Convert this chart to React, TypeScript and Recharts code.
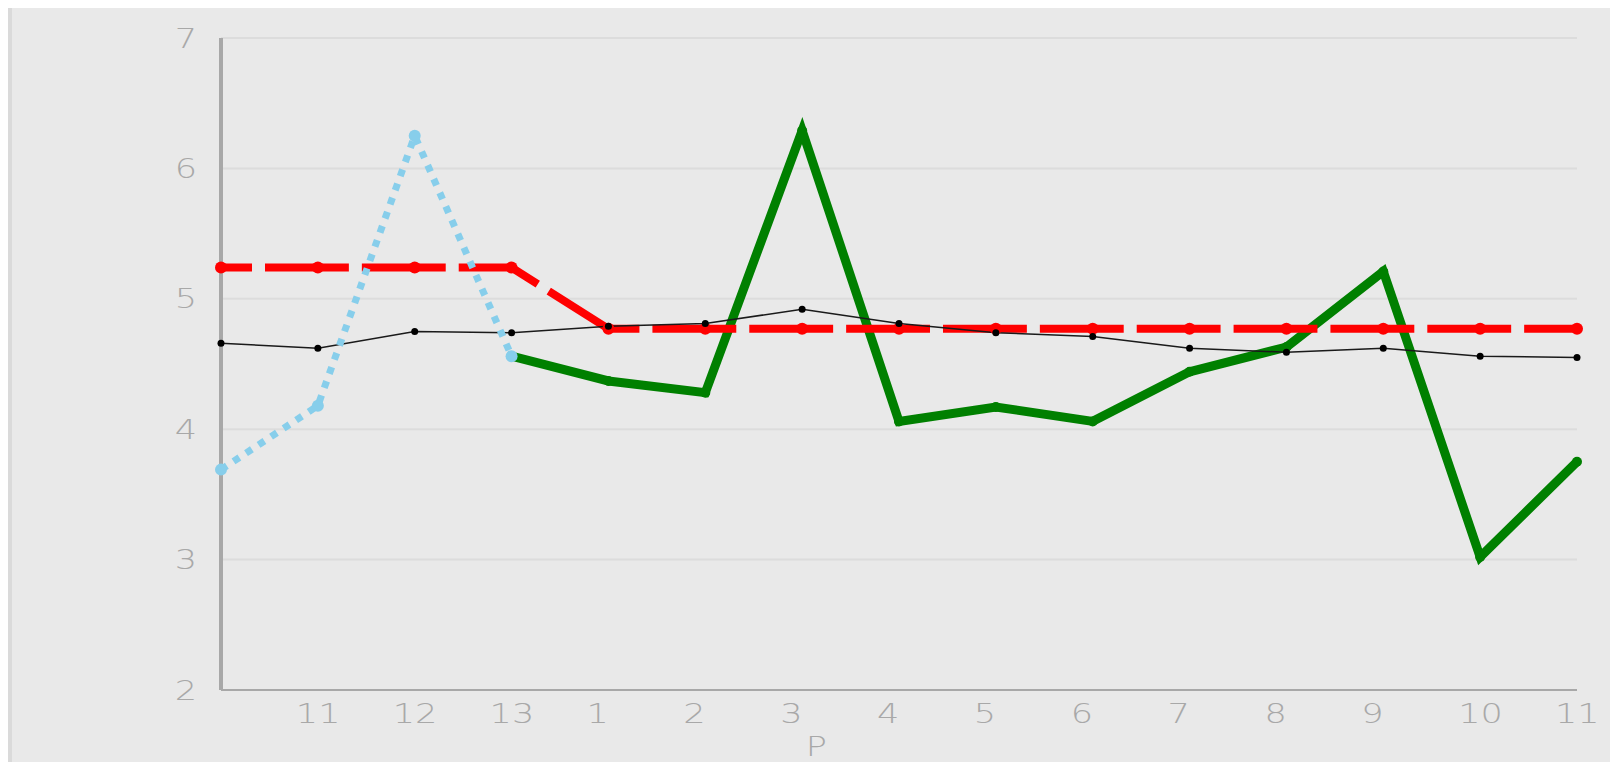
import React from "react";
import { LineChart, Line, XAxis, YAxis, CartesianGrid } from "recharts";

const periods = ["10", "11", "12", "13", "1", "2", "3", "4", "5", "6", "7", "8", "9", "10", "11"];
const prevYear = [3.69, 4.18, 6.25, 4.56, null, null, null, null, null, null, null, null, null, null, null];
const thisYear = [null, null, null, 4.56, 4.37, 4.28, 6.29, 4.06, 4.17, 4.06, 4.44, 4.63, 5.21, 3.02, 3.75];
const target = [5.24, 5.24, 5.24, 5.24, 4.77, 4.77, 4.77, 4.77, 4.77, 4.77, 4.77, 4.77, 4.77, 4.77, 4.77];
const average = [4.66, 4.62, 4.75, 4.74, 4.79, 4.81, 4.92, 4.81, 4.74, 4.71, 4.62, 4.59, 4.62, 4.56, 4.55];
const yTicks = [2, 3, 4, 5, 6, 7];

const chartData = periods.map((p, i) => ({
  period: p,
  prevYear: prevYear[i],
  thisYear: thisYear[i],
  target: target[i],
  average: average[i],
}));

const FONT = "'DejaVu Sans', sans-serif";
const TEXT = "#a8a8a8";

const XTick = (props: any) => {
  const { x, y, payload, index } = props;
  if (index === 0) return null;
  return (
    <text
      transform={`translate(${x - 22},${y + 32.5}) scale(1.35,1)`}
      textAnchor="start"
      fontFamily={FONT}
      fontSize={26}
      fontWeight={200}
      fill={TEXT}
    >
      {payload.value}
    </text>
  );
};

const YTick = (props: any) => {
  const { x, y, payload } = props;
  return (
    <text
      transform={`translate(${x - 24},${y + 9.5}) scale(1.35,1)`}
      textAnchor="end"
      fontFamily={FONT}
      fontSize={26}
      fontWeight={200}
      fill={TEXT}
    >
      {payload.value}
    </text>
  );
};

const AxisName = (props: any) => {
  const vb = props.viewBox;
  return (
    <text
      transform={`translate(${vb.x + vb.width * 0.439},${vb.y + 65.5}) scale(1.35,1)`}
      textAnchor="middle"
      fontFamily={FONT}
      fontSize={26}
      fontWeight={200}
      fill={TEXT}
    >
      P
    </text>
  );
};

// gaps sit ~31px after each point, like the original per-segment dash
const seg = 96.86;
const redDash = [31, 13, seg - 13, 13, seg - 13, 13, seg - 13, 13, 101.6, 13]
  .concat(Array.from({ length: 9 }).flatMap(() => [seg - 13, 13]))
  .concat([300])
  .join(" ");

export default function App() {
  return (
    <div
      style={{
        width: 1606,
        height: 756,
        marginTop: -2,
        background: "#e9e9e9",
        borderTop: "2px solid #dcdcdc",
        borderLeft: "4px solid #dadada",
      }}
    >
      <LineChart
        width={1606}
        height={754}
        data={chartData}
        margin={{ top: 30, right: 41, left: 0, bottom: 12 }}
      >
        <CartesianGrid vertical={false} stroke="#dcdcdc" strokeWidth={2} />
        <XAxis
          dataKey="period"
          height={60}
          interval={0}
          tickSize={0}
          tickMargin={0}
          tick={<XTick />}
          axisLine={{ stroke: "#a8a8a8", strokeWidth: 2 }}
          tickLine={false}
          label={<AxisName />}
        />
        <YAxis
          width={209}
          domain={[2, 7]}
          ticks={yTicks}
          tickSize={0}
          tickMargin={0}
          tick={<YTick />}
          axisLine={{ stroke: "#a8a8a8", strokeWidth: 4 }}
          tickLine={false}
        />
        <Line
          dataKey="thisYear"
          type="linear"
          stroke="#008000"
          strokeWidth={9}
          strokeLinejoin="miter"
          dot={{ r: 5, fill: "#008000", stroke: "none" }}
          activeDot={false}
          isAnimationActive={false}
        />
        <Line
          dataKey="target"
          type="linear"
          stroke="#ff0000"
          strokeWidth={8}
          strokeDasharray={redDash}
          dot={{ r: 6, fill: "#ff0000", stroke: "none" }}
          activeDot={false}
          isAnimationActive={false}
        />
        <Line
          dataKey="average"
          type="linear"
          stroke="#1a1a1a"
          strokeWidth={1.5}
          dot={{ r: 3.5, fill: "#000", stroke: "none" }}
          activeDot={false}
          isAnimationActive={false}
        />
        <Line
          dataKey="prevYear"
          type="linear"
          stroke="#87ceeb"
          strokeWidth={7}
          strokeDasharray="7 8"
          dot={{ r: 6, fill: "#87ceeb", stroke: "none" }}
          activeDot={false}
          isAnimationActive={false}
        />
      </LineChart>
    </div>
  );
}
